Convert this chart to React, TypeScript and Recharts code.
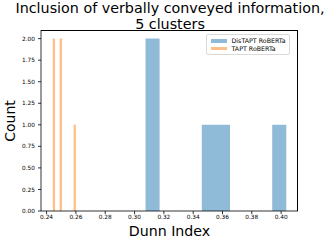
import React from 'react';
import { ComposedChart, Area, XAxis, YAxis } from 'recharts';

// Histogram values (10 bins per series)
const seriesNames = ['DisTAPT RoBERTa', 'TAPT RoBERTa'];
const seriesColors = ['#1f77b4', '#ff7f0e'];

const distaptBinStart = 0.3075;
const distaptBinWidth = 0.0096;
const distaptCounts = [2, 0, 0, 0, 1, 1, 0, 0, 0, 1];

const taptBinStart = 0.2442;
const taptBinWidth = 0.00158;
const taptCounts = [2, 0, 0, 2, 0, 0, 0, 0, 0, 1];

const xTicks = [0.24, 0.26, 0.28, 0.3, 0.32, 0.34, 0.36, 0.38, 0.4];
const yTicks = [0, 0.25, 0.5, 0.75, 1, 1.25, 1.5, 1.75, 2];
const xDomain = [0.2362, 0.4115];
const yDomain = [0, 2.1];

const titleLines = ['Inclusion of verbally conveyed information,', '5 clusters'];
const xLabel = 'Dunn Index';
const yLabel = 'Count';

type Row = { x: number; distapt?: number; tapt?: number };

function binRows(start: number, width: number, counts: number[], key: 'distapt' | 'tapt'): Row[] {
  const rows: Row[] = counts.map((c, i) => ({ x: start + i * width, [key]: c } as Row));
  rows.push({ x: start + counts.length * width, [key]: 0 } as Row);
  return rows;
}

const data: Row[] = [
  ...binRows(taptBinStart, taptBinWidth, taptCounts, 'tapt'),
  ...binRows(distaptBinStart, distaptBinWidth, distaptCounts, 'distapt'),
];

const FONT = '"DejaVu Sans", sans-serif';
const PLOT = { left: 41, top: 30, right: 34, bottom: 38 };

export default function App() {
  return (
    <div style={{ position: 'absolute', left: 0, top: 0, width: 332, height: 249, background: '#fff', fontFamily: FONT }}>
      <ComposedChart width={332} height={249} data={data} margin={{ top: PLOT.top, right: PLOT.right, bottom: 0, left: 0 }}>
        <XAxis
          dataKey="x"
          type="number"
          domain={xDomain}
          ticks={xTicks}
          allowDataOverflow
          tickFormatter={(v: number) => v.toFixed(2)}
          tick={{ fontSize: 5.8, fill: '#000', fontFamily: FONT }}
          tickSize={3}
          tickMargin={1}
          height={PLOT.bottom}
          stroke="#000"
          axisLine={{ stroke: '#000', strokeWidth: 0.8 }}
          tickLine={{ stroke: '#000', strokeWidth: 0.8 }}
        />
        <YAxis
          type="number"
          domain={yDomain}
          ticks={yTicks}
          allowDataOverflow
          tickFormatter={(v: number) => v.toFixed(2)}
          tick={{ fontSize: 5.8, fill: '#000', fontFamily: FONT }}
          tickSize={3}
          tickMargin={3}
          width={PLOT.left}
          axisLine={{ stroke: '#000', strokeWidth: 0.8 }}
          tickLine={{ stroke: '#000', strokeWidth: 0.8 }}
        />
        <Area
          dataKey="distapt"
          name={seriesNames[0]}
          type="stepAfter"
          fill={seriesColors[0]}
          fillOpacity={0.5}
          stroke="none"
          isAnimationActive={false}
          dot={false}
          activeDot={false}
        />
        <Area
          dataKey="tapt"
          name={seriesNames[1]}
          type="stepAfter"
          fill={seriesColors[1]}
          fillOpacity={0.5}
          stroke="none"
          isAnimationActive={false}
          dot={false}
          activeDot={false}
        />
      </ComposedChart>

      {/* Frame (top/right spines) */}
      <div
        style={{
          position: 'absolute',
          left: PLOT.left,
          top: PLOT.top,
          width: 332 - PLOT.left - PLOT.right,
          height: 249 - PLOT.top - PLOT.bottom,
          borderTop: '0.8px solid #000',
          borderRight: '0.8px solid #000',
          boxSizing: 'border-box',
          pointerEvents: 'none',
        }}
      />

      {/* Title */}
      <div style={{ position: 'absolute', left: 0, width: 340, top: 0, textAlign: 'center', fontSize: 14.3, lineHeight: '16px', color: '#000', whiteSpace: 'nowrap' }}>
        {titleLines.map((t) => (
          <div key={t}>{t}</div>
        ))}
      </div>

      {/* Axis labels */}
      <div style={{ position: 'absolute', left: 41, width: 257, top: 223, textAlign: 'center', fontSize: 14.2, color: '#000', lineHeight: '16px' }}>
        {xLabel}
      </div>
      <div style={{ position: 'absolute', left: 10, top: 121, width: 0, height: 0 }}>
        <div style={{ position: 'absolute', transform: 'translate(-50%, -50%) rotate(-90deg)', fontSize: 14, color: '#000', whiteSpace: 'nowrap', lineHeight: '16px' }}>
          {yLabel}
        </div>
      </div>

      {/* Legend */}
      <div style={{ position: 'absolute', left: 206, top: 33.5, width: 84, height: 21, border: '0.8px solid #d9d9d9', borderRadius: 2, background: 'rgba(255,255,255,0.8)', boxSizing: 'border-box' }}>
        {seriesNames.map((n, i) => (
          <div key={n} style={{ position: 'absolute', left: 3.5, top: 3.5 + i * 7.6, height: 6, display: 'flex', alignItems: 'center' }}>
            <div style={{ width: 16, height: 3.4, background: seriesColors[i], opacity: 0.5 }} />
            <div style={{ marginLeft: 5, fontSize: 6.3, lineHeight: '6px', color: '#000', whiteSpace: 'nowrap' }}>{n}</div>
          </div>
        ))}
      </div>
    </div>
  );
}
